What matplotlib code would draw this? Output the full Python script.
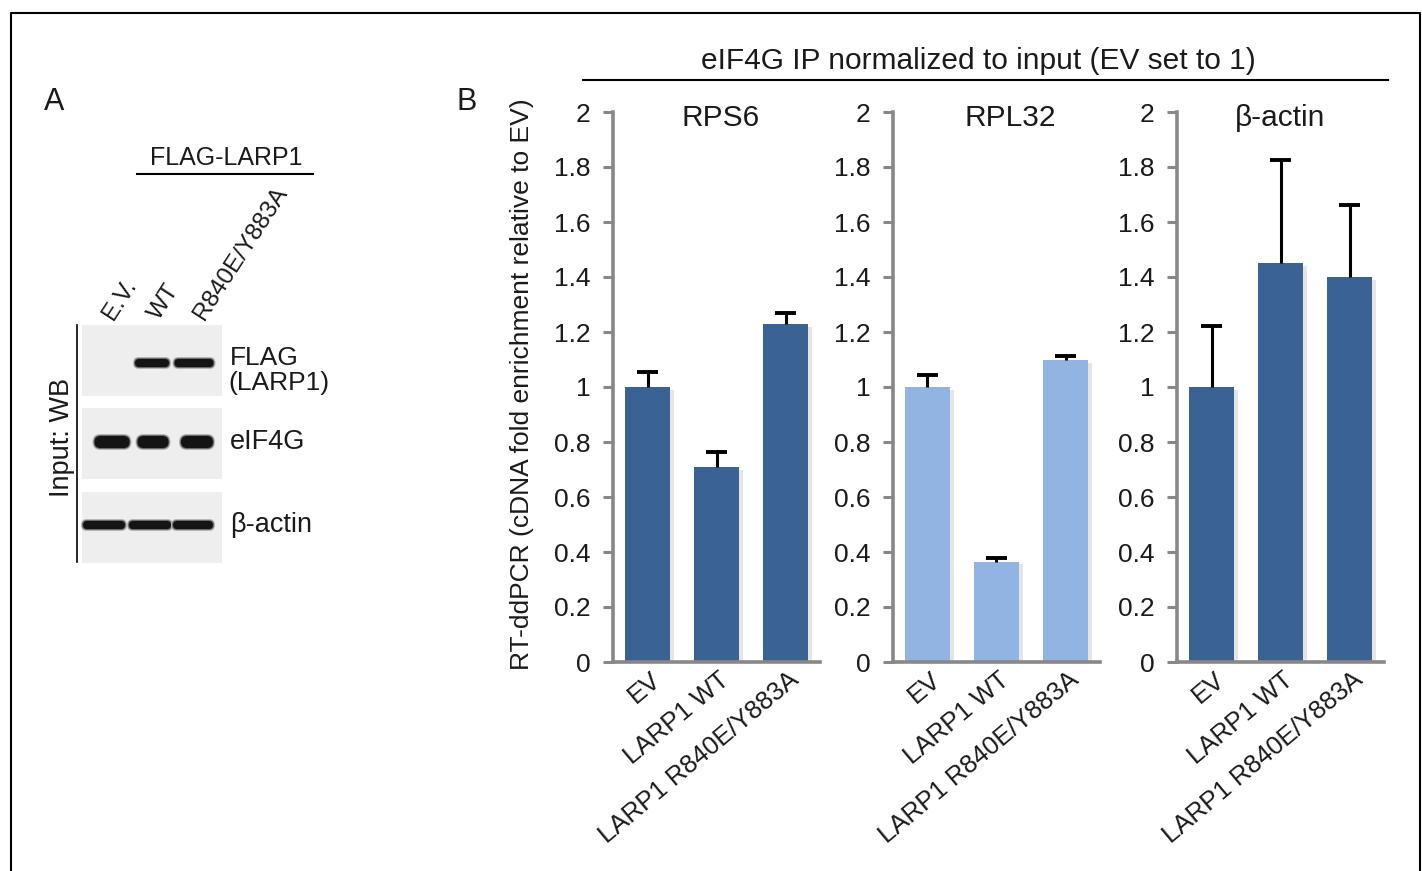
import numpy as np
import matplotlib
matplotlib.use('Agg')
from matplotlib import pyplot as plt
from matplotlib import patheffects
from matplotlib.patches import Rectangle, FancyBboxPatch
from matplotlib.lines import Line2D

plt.rcParams['font.family'] = ['Liberation Sans', 'DejaVu Sans']

# data
groups = ['EV', 'LARP1 WT', 'LARP1 R840E/Y883A']
genes = ['RPS6', 'RPL32', 'β-actin']
rps6 = [1.0, 0.71, 1.23]
rps6_err = [0.055, 0.055, 0.04]
rpl32 = [1.0, 0.365, 1.098]
rpl32_err = [0.042, 0.014, 0.016]
bactin = [1.0, 1.45, 1.40]
bactin_err = [0.22, 0.375, 0.26]
yticks = [0, 0.2, 0.4, 0.6, 0.8, 1, 1.2, 1.4, 1.6, 1.8, 2]
ytick_labels = ['0', '0.2', '0.4', '0.6', '0.8', '1', '1.2', '1.4', '1.6', '1.8', '2']

# western blot lanes (1 = band present)
lanes = ['E.V.', 'WT', 'R840E/Y883A']
blot_rows = ['FLAG\n(LARP1)', 'eIF4G', 'β-actin']
flag_bands = [0, 1, 1]
eif4g_bands = [1, 1, 1]
actin_bands = [1, 1, 1]

W, H = 1422, 871
fig = plt.figure(figsize=(W / 100, H / 100), dpi=100)
txt = '#1a1a1a'


def fx(px):
    return px / W


def fy(py):
    return 1 - py / H


# outer frame
fig.add_artist(Line2D([fx(11), fx(11), fx(1420), fx(1420)], [fy(900), fy(13.5), fy(13.5), fy(900)],
                      color='black', lw=1.5))

# ---- panel A: blot ----
fig.text(fx(54), fy(102), 'A', fontsize=22, ha='center', va='center', color=txt)
fig.text(fx(226), fy(158), 'FLAG-LARP1', fontsize=18, ha='center', va='center', color=txt)
fig.add_artist(Line2D([fx(137), fx(313)], [fy(174), fy(174)], color='black', lw=1.5))

lane_x = [117, 163, 208]
for lx, name in zip(lane_x, lanes):
    fig.text(fx(lx), fy(324), name, fontsize=17.5, rotation=57, ha='left', va='bottom',
             rotation_mode='anchor', color=txt)

axA = fig.add_axes([0, 0, 1, 1])
axA.set_xlim(0, W)
axA.set_ylim(H, 0)
axA.axis('off')
axA.patch.set_alpha(0)

panel_tops = [325, 408, 492]
panel_h = 71
band_y = [363, 442, 525]
band_h = [8, 12, 8]
band_sets = [flag_bands, eif4g_bands, actin_bands]
band_centers = [[112, 152, 194], [112, 153, 197], [104, 150, 193]]
band_w = [[34, 34, 39], [35, 31, 32], [42, 42, 40]]
for top, by, bh, bands, cx, bw, lab in zip(panel_tops, band_y, band_h, band_sets,
                                            band_centers, band_w, blot_rows):
    axA.add_patch(Rectangle((82, top), 140, panel_h, color='#eeeeee', lw=0))
    for present, c, w in zip(bands, cx, bw):
        if present:
            # soft halo then dense core
            for grow, shade in [(4, '#b5b5b5'), (2, '#6a6a6a'), (0, '#141414')]:
                hh = bh + grow
                axA.add_patch(FancyBboxPatch((c - (w + grow) / 2, by - hh / 2), w + grow, hh,
                                             boxstyle='round,pad=0,rounding_size=%g' % (hh / 2),
                                             color=shade, lw=0))
    if '\n' in lab:
        axA.text(230, by - 5, 'FLAG', fontsize=19, ha='left', va='center', color=txt)
        axA.text(228, by + 20, '(LARP1)', fontsize=19, ha='left', va='center', color=txt)
    else:
        axA.text(230, by, lab, fontsize=19.5, ha='left', va='center', color=txt)
axA.plot([77, 77], [325, 562], color='black', lw=1.2)
axA.text(62, 437, 'Input: WB', fontsize=19.5, rotation=90, ha='center', va='center', color=txt)

# ---- panel B: bars ----
fig.text(fx(467), fy(102), 'B', fontsize=22, ha='center', va='center', color=txt)
fig.text(fx(978), fy(61), 'eIF4G IP normalized to input (EV set to 1)', fontsize=21.5,
         ha='center', va='center', color=txt)
fig.add_artist(Line2D([fx(583), fx(1388)], [fy(80), fy(80)], color='black', lw=1.5))
fig.text(fx(522), fy(384), 'RT-ddPCR (cDNA fold enrichment relative to EV)', fontsize=19,
         rotation=90, ha='center', va='center', color=txt)

values = [rps6, rpl32, bactin]
errors = [rps6_err, rpl32_err, bactin_err]
colors = ['#3a6292', '#92b4e2', '#3a6292']
axis_x = [613, 893, 1177]
title_x = [721, 1010, 1280]
x = np.arange(len(groups))
shadow = [patheffects.SimplePatchShadow(offset=(3, -2), shadow_rgbFace='#000000', alpha=0.1),
          patheffects.Normal()]
for ax_px, tx, gene, vals, errs, col in zip(axis_x, title_x, genes, values, errors, colors):
    ax = fig.add_axes([fx(ax_px), fy(662), fx(207), (662 - 112) / H])
    bars = ax.bar(x, vals, width=0.65, color=col, zorder=2)
    for b in bars:
        b.set_path_effects(shadow)
    tops = np.array(vals) + np.array(errs)
    ax.vlines(x, vals, tops, color='black', lw=2.2, zorder=3)
    ax.hlines(tops, x - 0.15, x + 0.15, color='black', lw=2.8, zorder=3)
    ax.set_xlim(-0.5, 2.5)
    ax.set_ylim(0, 2)
    ax.set_yticks(yticks)
    ax.set_yticklabels(ytick_labels)
    ax.set_xticks(x)
    ax.set_xticklabels([])
    # category labels, slanted, end just right of each bar centre
    for xi, g in zip(x, groups):
        ax.annotate(g, xy=(xi, 0), xycoords=('data', 'axes fraction'), xytext=(10, -15),
                    textcoords='offset pixels', rotation=40, ha='right', va='center',
                    rotation_mode='anchor', fontsize=18.5, color=txt, annotation_clip=False)
    ax.tick_params(axis='x', length=0)
    ax.tick_params(axis='y', length=7, width=2.2, color='#888888', labelsize=19, labelcolor=txt,
                   pad=9)
    for s in ['top', 'right']:
        ax.spines[s].set_visible(False)
    for s in ['left', 'bottom']:
        ax.spines[s].set_color('#888888')
        ax.spines[s].set_linewidth(2.6)
    ax.spines['left'].set_bounds(0, 2)
    ax.patch.set_alpha(0)
    ax.text(fx(tx - ax_px) / fx(207), 0.99, gene, fontsize=21.5, color=txt, ha='center',
            va='center', transform=ax.transAxes)

fig.savefig('out.png', dpi=100)
